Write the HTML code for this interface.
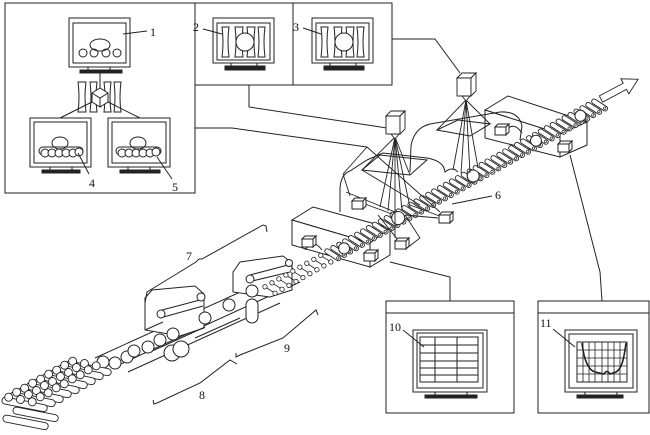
<!DOCTYPE html>
<html><head><meta charset="utf-8">
<style>
html,body{margin:0;padding:0;background:#fff;}
svg{display:block;}
text{font-family:"Liberation Serif",serif;font-size:12px;fill:#111;}
</style></head>
<body>
<svg width="650" height="435" viewBox="0 0 650 435" xmlns="http://www.w3.org/2000/svg">
<defs>
  <g id="cb" fill="#fff" stroke="#222" stroke-width="1">
    <polygon points="0,3 3,0 14,0 11,3"/>
    <rect x="0" y="3" width="11" height="8"/>
    <polygon points="11,3 14,0 14,8 11,11"/>
  </g>
  <g id="rl">
    <rect x="-9" y="-2.4" width="18" height="4.8" rx="2.4" transform="rotate(62)" fill="#fff" stroke="#222" stroke-width="0.9"/>
    <circle cx="0" cy="0" r="1.2" transform="rotate(62) translate(6,0)" fill="#fff" stroke="#222" stroke-width="0.7"/>
  </g>
  <g id="rs" transform="rotate(62)" fill="#fff" stroke="#222" stroke-width="0.8">
    <line x1="-6" y1="0" x2="6" y2="0"/>
    <circle cx="-6" cy="0" r="2.2"/>
    <circle cx="6" cy="0" r="2.2"/>
  </g>
  <g id="bar">
    <rect x="0" y="-3.5" width="46" height="7" rx="3.5" fill="#fff" stroke="#222" stroke-width="0.9"/>
    <circle cx="6" cy="-4" r="4" fill="#fff" stroke="#222" stroke-width="0.9"/>
    <circle cx="18" cy="-4" r="4" fill="#fff" stroke="#222" stroke-width="0.9"/>
    <circle cx="30" cy="-4" r="4" fill="#fff" stroke="#222" stroke-width="0.9"/>
  </g>
</defs>

<g fill="none" stroke="#222" stroke-width="1">
  <!-- top-left panel -->
  <rect x="5" y="3" width="190" height="190"/>
  <!-- top panels 2 and 3 -->
  <polyline points="195,3 392,3 392,85 195,85"/>
  <line x1="293" y1="3" x2="293" y2="85"/>

  <!-- monitor 1 -->
  <rect x="69" y="18" width="61" height="49"/>
  <rect x="73" y="23" width="53" height="40"/>
  <rect x="88" y="67" width="22" height="3"/>
  <rect x="80" y="70" width="42" height="3" fill="#222"/>
  <ellipse cx="100" cy="45" rx="10" ry="6"/>
  <circle cx="83" cy="53" r="4"/><circle cx="94" cy="53" r="4"/>
  <circle cx="106" cy="53" r="4"/><circle cx="117" cy="53" r="4"/>
  <line x1="100" y1="73" x2="100" y2="88"/>
  <!-- roll stands -->
  <path d="M78,82 L86,82 Q84,97 86,112 L78,112 Q80,97 78,82Z"/>
  <path d="M90,82 L97,82 Q95,97 97,112 L90,112 Q92,97 90,82Z"/>
  <path d="M104,82 L111,82 Q109,97 111,112 L104,112 Q106,97 104,82Z"/>
  <path d="M114,82 L121,82 Q119,97 121,112 L114,112 Q116,97 114,82Z"/>
  <polygon points="100,88 108,93 108,102 100,107 92,102 92,93" fill="#fff"/>
  <polyline points="92,93 100,98 108,93"/><line x1="100" y1="98" x2="100" y2="107"/>
  <line x1="92" y1="102" x2="60" y2="118"/>
  <line x1="108" y1="102" x2="140" y2="118"/>

  <!-- monitor 4 -->
  <rect x="30" y="118" width="61" height="49"/>
  <rect x="34" y="122" width="53" height="41"/>
  <rect x="50" y="167" width="22" height="3"/>
  <rect x="42" y="170" width="38" height="3" fill="#222"/>
  <ellipse cx="60" cy="143" rx="8" ry="6"/>
  <rect x="39" y="147" width="44" height="8" rx="4"/>
  <circle cx="45" cy="153" r="4" fill="#fff"/><circle cx="52" cy="153" r="4" fill="#fff"/>
  <circle cx="59" cy="153" r="4" fill="#fff"/><circle cx="66" cy="153" r="4" fill="#fff"/>
  <circle cx="73" cy="153" r="4" fill="#fff"/><circle cx="79" cy="152" r="4" fill="#fff"/>
  <!-- monitor 5 -->
  <rect x="108" y="118" width="62" height="49"/>
  <rect x="112" y="122" width="54" height="41"/>
  <rect x="128" y="167" width="22" height="3"/>
  <rect x="120" y="170" width="40" height="3" fill="#222"/>
  <ellipse cx="138" cy="143" rx="8" ry="6"/>
  <rect x="116" y="147" width="45" height="8" rx="4"/>
  <circle cx="122" cy="153" r="4" fill="#fff"/><circle cx="129" cy="153" r="4" fill="#fff"/>
  <circle cx="136" cy="153" r="4" fill="#fff"/><circle cx="143" cy="153" r="4" fill="#fff"/>
  <circle cx="150" cy="153" r="4" fill="#fff"/><circle cx="156" cy="152" r="4" fill="#fff"/>

  <!-- monitor 2 -->
  <rect x="213" y="18" width="61" height="45"/>
  <rect x="217" y="23" width="53" height="37"/>
  <rect x="231" y="63" width="26" height="3"/>
  <rect x="225" y="66" width="40" height="4" fill="#222"/>
  <path d="M222,27 L229,27 Q227,42 229,57 L222,57 Q224,42 222,27Z"/>
  <path d="M235,27 L243,27 Q241,42 243,57 L235,57 Q237,42 235,27Z"/>
  <path d="M247,27 L255,27 Q253,42 255,57 L247,57 Q249,42 247,27Z"/>
  <path d="M258,27 L265,27 Q263,42 265,57 L258,57 Q260,42 258,27Z"/>
  <circle cx="245" cy="42" r="9" fill="#fff"/>
  <!-- monitor 3 -->
  <rect x="312" y="18" width="61" height="45"/>
  <rect x="316" y="23" width="53" height="37"/>
  <rect x="330" y="63" width="26" height="3"/>
  <rect x="324" y="66" width="40" height="4" fill="#222"/>
  <path d="M321,27 L328,27 Q326,42 328,57 L321,57 Q323,42 321,27Z"/>
  <path d="M334,27 L342,27 Q340,42 342,57 L334,57 Q336,42 334,27Z"/>
  <path d="M346,27 L354,27 Q352,42 354,57 L346,57 Q348,42 346,27Z"/>
  <path d="M357,27 L364,27 Q362,42 364,57 L357,57 Q359,42 357,27Z"/>
  <circle cx="344" cy="42" r="9" fill="#fff"/>

  <!-- leaders top -->
  <line x1="147" y1="31" x2="123" y2="34"/>
  <line x1="203" y1="29" x2="222" y2="34"/>
  <line x1="303" y1="28" x2="321" y2="34"/>
  <line x1="89" y1="174" x2="78" y2="153"/>
  <line x1="172" y1="179" x2="157" y2="157"/>

  <!-- connectors -->
  <polyline points="195,128 232,128 367,147"/>
  <polyline points="249,85 249,107 387,128"/>
  <polyline points="392,39 435,39 460,73"/>
  <polyline points="390,262 450,277 450,301"/>
  <polyline points="570,155 600,272 602,301"/>

  <!-- bottom panels -->
  <rect x="386" y="301" width="128" height="112"/>
  <line x1="386" y1="313" x2="514" y2="313"/>
  <rect x="538" y="301" width="111" height="112"/>
  <line x1="538" y1="313" x2="649" y2="313"/>

  <!-- monitor 10 -->
  <rect x="413" y="330" width="74" height="62"/>
  <rect x="417" y="333" width="66" height="55"/>
  <rect x="420" y="337" width="58" height="45"/>
  <line x1="435" y1="337" x2="435" y2="382"/><line x1="457" y1="337" x2="457" y2="382"/>
  <line x1="420" y1="345" x2="478" y2="345"/><line x1="420" y1="353" x2="478" y2="353"/>
  <line x1="420" y1="361" x2="478" y2="361"/><line x1="420" y1="368" x2="478" y2="368"/>
  <line x1="420" y1="375" x2="478" y2="375"/>
  <rect x="435" y="392" width="32" height="3"/>
  <rect x="425" y="395" width="52" height="3" fill="#222"/>
  <line x1="403" y1="330" x2="424" y2="347"/>

  <!-- monitor 11 -->
  <rect x="565" y="330" width="72" height="62"/>
  <rect x="569" y="334" width="64" height="54"/>
  <rect x="577" y="342" width="50" height="40"/>
  <g stroke-width="0.8">
  <line x1="583" y1="342" x2="583" y2="382"/><line x1="589" y1="342" x2="589" y2="382"/>
  <line x1="595" y1="342" x2="595" y2="382"/><line x1="602" y1="342" x2="602" y2="382"/>
  <line x1="608" y1="342" x2="608" y2="382"/><line x1="614" y1="342" x2="614" y2="382"/>
  <line x1="620" y1="342" x2="620" y2="382"/>
  <line x1="577" y1="350" x2="627" y2="350"/><line x1="577" y1="358" x2="627" y2="358"/>
  <line x1="577" y1="366" x2="627" y2="366"/><line x1="577" y1="374" x2="627" y2="374"/>
  </g>
  <path d="M582,343 C584,360 588,370 595,372 L604,374 Q607,369 610,374 L616,372 C622,369 624,358 626,343" stroke-width="1.6"/>
  <rect x="585" y="392" width="32" height="3"/>
  <rect x="577" y="395" width="46" height="3" fill="#222"/>
  <line x1="553" y1="329" x2="575" y2="347"/>

  <!-- boxes on line -->
  <g fill="#fff">
    <polygon points="292,220 313,207 390,228 370,243"/>
    <polygon points="292,220 370,243 370,267 292,245"/>
    <polygon points="370,243 390,228 390,255 370,267"/>
    <polygon points="485,110 508,96 587,122 560,134"/>
    <polygon points="485,110 560,134 560,157 485,138"/>
    <polygon points="560,134 587,122 587,145 560,157"/>
  </g>
  <path d="M305,250 Q313,238 322,250"/>
  <path d="M505,132 Q513,120 522,133"/>

  <!-- hoods -->
  <path d="M340,212 L340,188 Q341,174 350,171 L367,160 L383,153 L427,158 Q444,161 445,172 Q452,166 458,172"/>
  <path d="M410,172 L411,146 Q414,128 430,124 L500,112 Q519,111 522,126 L520,140"/>
  <!-- planes -->
  <polygon points="362,170 380,155 427,160 410,175"/>
  <polygon points="437,130 458,120 490,124 470,136"/>
</g>

<!-- lower-left feed conveyor -->
<g fill="none" stroke="#222" stroke-width="1">
  <line x1="95" y1="358" x2="293" y2="268"/>
  <line x1="112" y1="368" x2="300" y2="282"/>
  <line x1="128" y1="372" x2="280" y2="303"/>
  <!-- station frames -->
  <polygon points="145,298 152,290 195,286 204,294 204,328 180,336 145,330" fill="#fff"/>
  <line x1="160" y1="318" x2="203" y2="306"/><line x1="162" y1="310" x2="200" y2="300"/>
  <circle cx="201" cy="297" r="4" fill="#fff"/><circle cx="161" cy="314" r="4" fill="#fff"/>
  <line x1="145" y1="330" x2="163" y2="322"/>
  <polygon points="233,272 240,262 283,256 292,263 292,290 270,297 233,292" fill="#fff"/>
  <line x1="248" y1="282" x2="290" y2="272"/><line x1="250" y1="275" x2="288" y2="265"/>
  <circle cx="250" cy="279" r="4" fill="#fff"/><circle cx="289" cy="263" r="3.5" fill="#fff"/>
  <rect x="246" y="299" width="12" height="24" rx="6" fill="#fff"/>
  <circle cx="172" cy="353" r="8" fill="#fff"/><circle cx="181" cy="349" r="8" fill="#fff"/>
  <line x1="150" y1="352" x2="205" y2="327"/>
  <line x1="195" y1="338" x2="240" y2="318"/>
  <!-- billets on deck -->
  <g fill="#fff">
    <circle cx="103" cy="362" r="6"/><circle cx="115" cy="363" r="6"/>
    <circle cx="127" cy="357" r="6"/><circle cx="134" cy="351" r="6"/>
    <circle cx="148" cy="347" r="6"/><circle cx="160" cy="340" r="6"/>
    <circle cx="173" cy="334" r="6"/><circle cx="205" cy="318" r="6"/>
    <circle cx="229" cy="305" r="6"/><circle cx="252" cy="291" r="6"/>
  </g>
</g>

<!-- billet pile -->
<g>
  <use href="#bar" transform="translate(66,364) rotate(11)"/>
  <use href="#bar" transform="translate(58,368) rotate(11)"/>
  <use href="#bar" transform="translate(50,373) rotate(11)"/>
  <use href="#bar" transform="translate(42,377) rotate(11)"/>
  <use href="#bar" transform="translate(34,382) rotate(11)"/>
  <use href="#bar" transform="translate(26,386) rotate(11)"/>
  <use href="#bar" transform="translate(18,391) rotate(11)"/>
  <use href="#bar" transform="translate(10,395) rotate(11)"/>
  <use href="#bar" transform="translate(2,400) rotate(11)"/>
  <g fill="#fff" stroke="#222" stroke-width="0.9">
    <rect x="0" y="-3.5" width="46" height="7" rx="3.5" transform="translate(13,410) rotate(11)"/>
    <rect x="0" y="-3.5" width="46" height="7" rx="3.5" transform="translate(3,418) rotate(11)"/>
  </g>
</g>

<!-- roller table -->
<g transform="translate(270,290) rotate(-29.3)">
  <use href="#rs" x="0"/><use href="#rs" x="8"/><use href="#rs" x="16"/><use href="#rs" x="24"/>
  <use href="#rs" x="32"/><use href="#rs" x="40"/><use href="#rs" x="48"/><use href="#rs" x="56"/>
  <use href="#rs" x="64"/>
  <use href="#rl" x="72"/><use href="#rl" x="78.8"/><use href="#rl" x="85.6"/><use href="#rl" x="92.4"/>
  <use href="#rl" x="99.2"/><use href="#rl" x="106"/><use href="#rl" x="112.8"/><use href="#rl" x="119.6"/>
  <use href="#rl" x="126.4"/><use href="#rl" x="133.2"/><use href="#rl" x="140"/><use href="#rl" x="146.8"/>
  <use href="#rl" x="153.6"/><use href="#rl" x="160.4"/><use href="#rl" x="167.2"/><use href="#rl" x="174"/>
  <use href="#rl" x="180.8"/><use href="#rl" x="187.6"/><use href="#rl" x="194.4"/><use href="#rl" x="201.2"/>
  <use href="#rl" x="208"/><use href="#rl" x="214.8"/><use href="#rl" x="221.6"/><use href="#rl" x="228.4"/>
  <use href="#rl" x="235.2"/><use href="#rl" x="242"/><use href="#rl" x="248.8"/><use href="#rl" x="255.6"/>
  <use href="#rl" x="262.4"/><use href="#rl" x="269.2"/><use href="#rl" x="276"/><use href="#rl" x="282.8"/>
  <use href="#rl" x="289.6"/><use href="#rl" x="296.4"/><use href="#rl" x="303.2"/><use href="#rl" x="310"/>
  <use href="#rl" x="316.8"/><use href="#rl" x="323.6"/><use href="#rl" x="330.4"/><use href="#rl" x="337.2"/>
  <use href="#rl" x="344"/><use href="#rl" x="350.8"/><use href="#rl" x="357.6"/><use href="#rl" x="364.4"/>
  <use href="#rl" x="371.2"/><use href="#rl" x="378"/>
  <g fill="#fff" stroke="#222" stroke-width="1">
    <circle cx="85" cy="0" r="5.5"/><circle cx="147" cy="0" r="6.5"/>
    <circle cx="233" cy="0" r="6"/><circle cx="305" cy="0" r="5.5"/><circle cx="356" cy="0" r="5.5"/>
  </g>
</g>

<!-- sensors, cameras, beams -->
<g fill="none" stroke="#222" stroke-width="0.9">
  <!-- camera 1 fan -->
  <line x1="395" y1="137" x2="380" y2="207"/><line x1="395" y1="137" x2="388" y2="211"/>
  <line x1="395" y1="137" x2="395" y2="238"/><line x1="395" y1="137" x2="402" y2="211"/>
  <line x1="395" y1="137" x2="410" y2="207"/>
  <line x1="395" y1="137" x2="362" y2="170"/><line x1="395" y1="137" x2="410" y2="175"/>
  <line x1="367" y1="147" x2="343" y2="174"/><line x1="343" y1="174" x2="350" y2="196"/>
  <line x1="367" y1="147" x2="440" y2="212"/>
  <line x1="346" y1="192" x2="395" y2="212"/><line x1="362" y1="170" x2="420" y2="205"/>
  <line x1="410" y1="205" x2="445" y2="218"/><line x1="365" y1="204" x2="392" y2="214"/>
  <line x1="378" y1="215" x2="398" y2="240"/><line x1="405" y1="215" x2="420" y2="238"/>
  <line x1="420" y1="238" x2="407" y2="248"/>
  <line x1="405" y1="215" x2="438" y2="218"/>
  <!-- camera 2 fan -->
  <line x1="466" y1="100" x2="453" y2="170"/><line x1="466" y1="100" x2="461" y2="173"/>
  <line x1="466" y1="100" x2="470" y2="173"/><line x1="466" y1="100" x2="478" y2="168"/>
  <line x1="466" y1="100" x2="437" y2="130"/><line x1="466" y1="100" x2="490" y2="124"/>
  <!-- leader 6 -->
  <line x1="492" y1="196" x2="452" y2="204"/>
  <!-- arrow -->
  <g transform="translate(601,99) rotate(-28)">
    <polygon points="0,-3.5 27,-3.5 27,-8.5 42,0 27,8.5 27,3.5 0,3.5" fill="#fff"/>
  </g>
</g>
<g>
  <use href="#cb" x="352" y="198"/>
  <use href="#cb" x="439" y="212"/>
  <use href="#cb" x="395" y="238"/>
  <use href="#cb" x="302" y="236"/>
  <use href="#cb" x="364" y="250"/>
  <use href="#cb" x="495" y="124"/>
  <use href="#cb" x="558" y="141"/>
</g>
<g fill="#fff" stroke="#222" stroke-width="0.9">
  <rect x="386" y="116" width="14" height="18"/>
  <polygon points="386,116 391,111 405,111 400,116"/>
  <polygon points="400,116 405,111 405,129 400,134"/>
  <polygon points="391,134 399,134 395,139"/>
  <rect x="457" y="78" width="14" height="18"/>
  <polygon points="457,78 462,73 476,73 471,78"/>
  <polygon points="471,78 476,73 476,91 471,96"/>
  <polygon points="462,96 470,96 466,101"/>
</g>

<!-- brackets -->
<g fill="none" stroke="#222" stroke-width="1">
  <polyline points="145,303 147,292 196,262 199,259 202,259 263,225 266,226 267,232"/>
  <polyline points="318,315 316,310 283,338 240,355 236,357 236,353"/>
  <polyline points="237,364 230,360 200,383 157,403 154,404 153,400"/>
</g>

<!-- labels -->
<text x="150" y="36">1</text>
<text x="193" y="31">2</text>
<text x="293" y="31">3</text>
<text x="89" y="187">4</text>
<text x="172" y="191">5</text>
<text x="495" y="199">6</text>
<text x="186" y="260">7</text>
<text x="199" y="399">8</text>
<text x="284" y="352">9</text>
<text x="389" y="331">10</text>
<text x="540" y="327">11</text>
</svg>
</body></html>
